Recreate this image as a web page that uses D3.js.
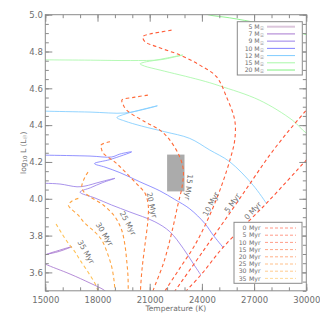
<!DOCTYPE html>
<html>
<head>
<meta charset="utf-8">
<script src="https://cdn.jsdelivr.net/npm/d3@7"></script>
<style>
	body { margin: 0; background: #fff; }
	svg text { font-family: "DejaVu Sans", sans-serif; fill: #6e6e6e; }
</style>
</head>
<body>
<div id="chart"></div>
<script>
// masses (Msun) and isochrone ages (Myr)
var masses = [5, 7, 9, 10, 12, 15, 20];
var ages = [0, 5, 10, 15, 20, 25, 30, 35];
var xTicks = [15000, 18000, 21000, 24000, 27000, 30000];
var yTicks = [3.6, 3.8, 4.0, 4.2, 4.4, 4.6, 4.8, 5.0];

// evolutionary tracks, [Teff, log L]
var track5 = [];
var track7 = [[18700, 3.47], [18433, 3.50], [17570, 3.542], [16423, 3.591], [15000, 3.645], [14600, 3.665],
	[15000, 3.694], [15800, 3.72], [16530, 3.740], [15800, 3.714], [15000, 3.697], [14500, 3.69]];
var track9 = [[23937, 3.586], [23495, 3.649], [22921, 3.731], [22158, 3.821], [21298, 3.875], [19864, 3.928],
	[18814, 3.966], [17857, 4.004], [16996, 4.036], [17600, 4.06], [18300, 4.088], [19004, 4.111],
	[18143, 4.091], [17283, 4.069], [16824, 4.065], [15849, 4.080], [15000, 4.084], [14500, 4.085]];
var track10 = [[25216, 3.736], [24643, 3.803], [24166, 3.866], [23306, 3.945], [22445, 3.996], [21585, 4.043],
	[20438, 4.092], [19290, 4.142], [18430, 4.172], [17828, 4.191], [18717, 4.213], [19962, 4.255],
	[19290, 4.243], [18814, 4.227], [17570, 4.232], [15000, 4.237], [14500, 4.238]];
var track12 = [[27706, 3.975], [26940, 4.074], [25600, 4.201], [24450, 4.265], [23300, 4.328], [21872, 4.364],
	[20535, 4.395], [19577, 4.422], [19118, 4.441], [19577, 4.46], [20438, 4.482], [21440, 4.505],
	[20725, 4.487], [19577, 4.466], [17570, 4.471], [15000, 4.476], [14500, 4.478]];
var track15 = [[31000, 4.31], [30000, 4.357], [29200, 4.427], [27300, 4.536], [25000, 4.614], [23900, 4.645],
	[21600, 4.699], [20700, 4.721], [20450, 4.733], [20700, 4.742], [21300, 4.752], [22000, 4.765],
	[22900, 4.781], [22400, 4.770], [21600, 4.755], [19900, 4.751], [17600, 4.753], [15000, 4.755], [14500, 4.756]];
var track20 = [[31000, 4.86], [30000, 4.892], [29230, 4.911], [27320, 4.953], [25600, 4.983], [24350, 5.0], [23500, 5.03]];
var tracks = [track5, track7, track9, track10, track12, track15, track20];

// isochrones, [Teff, log L]
var iso0 = [[22800, 3.47], [23937, 3.586], [25216, 3.736], [27706, 3.975], [30000, 4.21], [30500, 4.26]];
var iso5 = [[22200, 3.465], [22445, 3.498], [24109, 3.721], [25715, 3.938], [26862, 4.096], [27894, 4.237],
	[28927, 4.362], [30000, 4.482], [30400, 4.53]];
var iso10 = [[22256, 4.916], [21585, 4.905], [21011, 4.895], [20610, 4.881], [20725, 4.854], [21396, 4.826],
	[22733, 4.781], [23880, 4.726], [24837, 4.663], [25411, 4.554], [25887, 4.427], [25887, 4.319],
	[25658, 4.226], [25141, 4.074], [24453, 3.911], [23593, 3.748], [22733, 3.623], [21872, 3.498], [21700, 3.47]];
var iso15 = [[20897, 4.563], [20151, 4.552], [19405, 4.536], [19463, 4.514], [19675, 4.482], [20725, 4.418],
	[21585, 4.373], [22158, 4.319], [22732, 4.226], [22933, 4.156], [22876, 4.074], [22617, 3.966],
	[22273, 3.819], [21814, 3.656], [21183, 3.498], [21100, 3.47]];
var iso20 = [[18717, 4.310], [18201, 4.292], [18229, 4.270], [18333, 4.247], [19004, 4.199], [19577, 4.147],
	[20265, 4.080], [20725, 4.031], [20914, 3.966], [20897, 3.884], [20725, 3.748], [20553, 3.612],
	[20466, 3.498], [20450, 3.47]];
var iso25 = [[17455, 4.145], [17283, 4.118], [17094, 4.065], [17226, 4.036], [17570, 4.011], [18333, 3.966],
	[19004, 3.902], [19388, 3.830], [19577, 3.748], [19675, 3.667], [19749, 3.585], [19767, 3.498], [19770, 3.47]];
var iso30 = [[16899, 4.002], [16537, 3.988], [16325, 3.966], [16423, 3.950], [16881, 3.912], [17283, 3.866],
	[17857, 3.819], [18241, 3.776], [18545, 3.711], [18814, 3.631], [18946, 3.559], [19004, 3.500], [19020, 3.47]];
var iso35 = [[15619, 3.863], [15964, 3.809], [16325, 3.758], [16709, 3.711], [16996, 3.667], [17455, 3.602],
	[17857, 3.540], [18029, 3.498], [18100, 3.46]];
var isochrones = [iso0, iso5, iso10, iso15, iso20, iso25, iso30, iso35];

// where each age label sits, [Teff, log L, angle]
var isoLabelPos = [[26922, 3.935, -47], [25743, 3.977, -55], [24510, 3.971, -62], [23249, 4.063, 97],
	[21126, 3.966, 78], [19749, 3.867, 62], [18401, 3.808, 58], [17340, 3.711, 60]];

// observed box
var boxT = [22000, 23000];
var boxL = [4.04, 4.24];

var trackColors = ["#dcc6dc", "#a878d0", "#9a80e8", "#8080ff", "#80ccff", "#a8f8a8", "#80f080"];
var isoColors = ["#ff5236", "#ff5638", "#ff5c38", "#ff6a38", "#ff7c3a", "#ff983c", "#ffa842", "#ffc256"];

var width = 320, height = 320;
var svg = d3.select("#chart").append("svg").attr("width", width).attr("height", height);

var x = d3.scaleLinear().domain([15000, 30000]).range([45.3, 306.3]);
var y = d3.scaleLinear().domain([3.5, 5.0]).range([290.8, 14.7]);
var axisColor = "#8a8a8a";

svg.append("clipPath").attr("id", "plotclip")
	.append("rect")
	.attr("x", x(15000)).attr("y", y(5.0))
	.attr("width", x(30000) - x(15000)).attr("height", y(3.5) - y(5.0));

var plot = svg.append("g").attr("clip-path", "url(#plotclip)");

// grey box
plot.append("rect")
	.attr("x", x(boxT[0])).attr("y", y(boxL[1]))
	.attr("width", x(boxT[1]) - x(boxT[0]))
	.attr("height", y(boxL[0]) - y(boxL[1]))
	.attr("fill", "#ababab");

var line = d3.line().x((d) => x(d[0])).y((d) => y(d[1])).curve(d3.curveCatmullRom.alpha(0.5));

// tracks
plot.selectAll(".track")
	.data(tracks)
	.join("path")
	.attr("class", "track")
	.attr("d", (d) => (d.length ? line(d) : null))
	.attr("fill", "none")
	.attr("stroke", (d, i) => trackColors[i])
	.attr("stroke-opacity", 0.85)
	.attr("stroke-width", 1);

// isochrones
plot.selectAll(".iso")
	.data(isochrones)
	.join("path")
	.attr("class", "iso")
	.attr("d", line)
	.attr("fill", "none")
	.attr("stroke", (d, i) => isoColors[i])
	.attr("stroke-width", 1.1)
	.attr("stroke-dasharray", "3.5,2.8");

// age labels on the isochrones
svg.selectAll(".iso-label")
	.data(ages)
	.join("text")
	.attr("class", "iso-label")
	.attr("transform", (d, i) => `translate(${x(isoLabelPos[i][0])},${y(isoLabelPos[i][1])}) rotate(${isoLabelPos[i][2]})`)
	.attr("text-anchor", "middle")
	.attr("dy", "0.35em")
	.attr("font-size", "7.5px")
	.text((d) => d + " Myr");

// axes, ticks pointing inward
function minor(domain, step) {
	var out = [];
	for (var v = domain[0]; v <= domain[1] + 1e-9; v += step) out.push(+v.toFixed(3));
	return out;
}
var xMinor = minor([15000, 30000], 1000);
var yMinor = minor([3.5, 5.0], 0.05);

function styleAxis(g) {
	g.select(".domain").remove();
	g.selectAll("line").attr("stroke", axisColor);
	g.selectAll("text").attr("font-size", "8.5px").style("fill", "#6e6e6e");
}

svg.append("g").attr("transform", `translate(0,${y(3.5)})`)
	.call(d3.axisBottom(x).tickValues(xMinor).tickSize(-3.5).tickFormat("")).call(styleAxis);
svg.append("g").attr("transform", `translate(0,${y(3.5)})`)
	.call(d3.axisBottom(x).tickValues(xTicks).tickSize(-7).tickPadding(6).tickFormat(d3.format("d"))).call(styleAxis);
svg.append("g").attr("transform", `translate(0,${y(5.0)})`)
	.call(d3.axisTop(x).tickValues(xMinor).tickSize(-3.5).tickFormat("")).call(styleAxis);
svg.append("g").attr("transform", `translate(0,${y(5.0)})`)
	.call(d3.axisTop(x).tickValues(xTicks).tickSize(-7).tickFormat("")).call(styleAxis);

svg.append("g").attr("transform", `translate(${x(15000)},0)`)
	.call(d3.axisLeft(y).tickValues(yMinor).tickSize(-3.5).tickFormat("")).call(styleAxis);
svg.append("g").attr("transform", `translate(${x(15000)},0)`)
	.call(d3.axisLeft(y).tickValues(yTicks).tickSize(-7).tickPadding(2.5).tickFormat(d3.format(".1f"))).call(styleAxis);
svg.append("g").attr("transform", `translate(${x(30000)},0)`)
	.call(d3.axisRight(y).tickValues(yMinor).tickSize(-3.5).tickFormat("")).call(styleAxis);
svg.append("g").attr("transform", `translate(${x(30000)},0)`)
	.call(d3.axisRight(y).tickValues(yTicks).tickSize(-7).tickFormat("")).call(styleAxis);

// frame
svg.append("rect")
	.attr("x", x(15000)).attr("y", y(5.0))
	.attr("width", x(30000) - x(15000)).attr("height", y(3.5) - y(5.0))
	.attr("fill", "none").attr("stroke", axisColor).attr("stroke-width", 1);

// axis titles
svg.append("text")
	.attr("x", (x(15000) + x(30000)) / 2)
	.attr("y", 310.5)
	.attr("text-anchor", "middle")
	.attr("font-size", "7.5px")
	.text("Temperature (K)");

var yTitle = svg.append("text")
	.attr("transform", `translate(25.5,${(y(3.5) + y(5.0)) / 2}) rotate(-90)`)
	.attr("text-anchor", "middle")
	.attr("font-size", "7.5px");
yTitle.append("tspan").text("log");
yTitle.append("tspan").attr("dy", 1.8).attr("font-size", "5.5px").text("10");
yTitle.append("tspan").attr("dy", -1.8).text(" L (L");
yTitle.append("tspan").attr("dy", 1.8).attr("font-size", "5.5px").text("\u2609");
yTitle.append("tspan").attr("dy", -1.8).text(")");

// mass legend
var leg1 = svg.append("g");
leg1.append("rect")
	.attr("x", 237.3).attr("y", 21.7).attr("width", 65).attr("height", 53.3)
	.attr("fill", "#fff").attr("stroke", axisColor);
var rows1 = leg1.selectAll(".row").data(masses).join("g")
	.attr("class", "row")
	.attr("transform", (d, i) => `translate(0,${26.7 + i * 7.22})`);
rows1.append("text").attr("x", 252.5).attr("y", 2.2).attr("text-anchor", "end")
	.attr("font-size", "6.2px").text((d) => d);
var mText = rows1.append("text").attr("x", 254.3).attr("y", 2.2).attr("font-size", "6.2px");
mText.append("tspan").text("M");
mText.append("tspan").attr("dy", 1.2).attr("font-size", "5px").text("\u2609");
rows1.append("line").attr("x1", 267).attr("x2", 295).attr("y1", 0).attr("y2", 0)
	.attr("stroke", (d, i) => trackColors[i]).attr("stroke-width", (d, i) => (i === 0 ? 2 : 1));

// age legend
var leg2 = svg.append("g");
leg2.append("rect")
	.attr("x", 234).attr("y", 222.3).attr("width", 68).attr("height", 61)
	.attr("fill", "#fff").attr("stroke", axisColor);
var rows2 = leg2.selectAll(".row").data(ages).join("g")
	.attr("class", "row")
	.attr("transform", (d, i) => `translate(0,${228 + i * 7.2})`);
rows2.append("text").attr("x", 246.5).attr("y", 2.2).attr("text-anchor", "end")
	.attr("font-size", "6.2px").text((d) => d);
rows2.append("text").attr("x", 249).attr("y", 2.2).attr("font-size", "6.2px").text("Myr");
rows2.append("line").attr("x1", 265).attr("x2", 296).attr("y1", 0).attr("y2", 0)
	.attr("stroke", (d, i) => isoColors[i]).attr("stroke-opacity", 0.6)
	.attr("stroke-width", 1).attr("stroke-dasharray", "3,2");
</script>
</body>
</html>
